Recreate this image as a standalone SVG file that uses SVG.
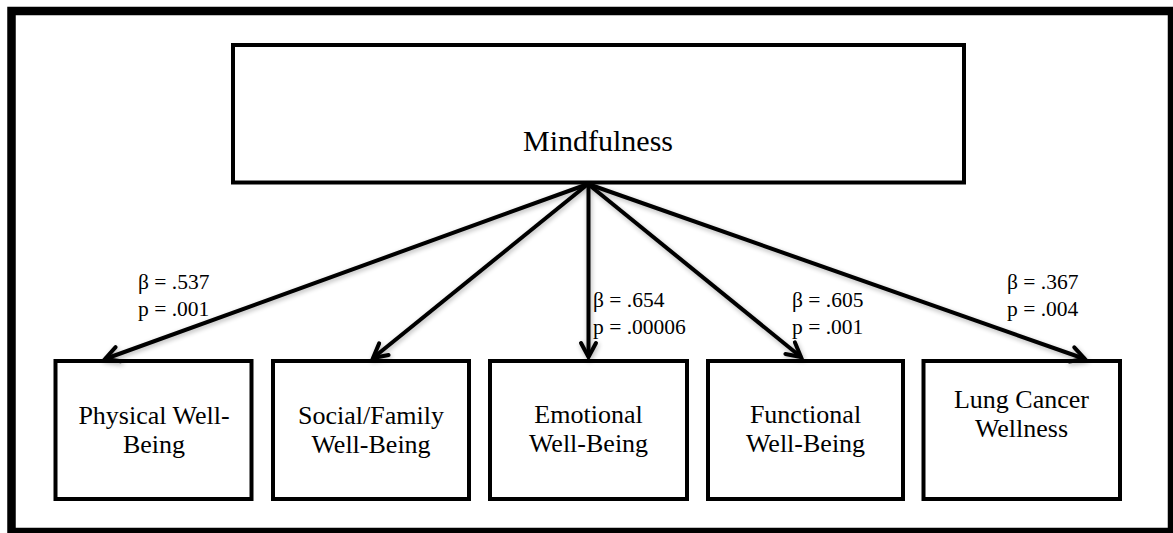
<svg xmlns="http://www.w3.org/2000/svg" width="1173" height="533" viewBox="0 0 1173 533">
  <style>
    .box { fill: #ffffff; stroke: #000000; stroke-width: 4; }
    .lbl { font-family: 'Liberation Serif', 'Tinos', 'DejaVu Serif', serif; font-size: 26px; fill: #000000; text-anchor: middle; }
    .coef { font-family: 'Liberation Serif', 'Tinos', 'DejaVu Serif', serif; font-size: 21.5px; fill: #000000; }
    .conn line { stroke: #000000; stroke-width: 4; marker-end: url(#arr); }
  </style>
  <defs>
    <marker id="arr" markerUnits="userSpaceOnUse" viewBox="-20 -12 24 24" refX="0" refY="0" markerWidth="24" markerHeight="24" orient="auto" overflow="visible">
      <path d="M -14 -7.5 L 0 0 L -14 7.5" fill="none" stroke="#000000" stroke-width="4" stroke-linejoin="miter" stroke-linecap="round"/>
    </marker>
    <filter id="shadow" x="-10%" y="-10%" width="120%" height="130%">
      <feGaussianBlur in="SourceAlpha" stdDeviation="2.5"/>
      <feOffset dx="1" dy="2" result="b"/>
      <feComponentTransfer><feFuncA type="linear" slope="0.3"/></feComponentTransfer>
      <feMerge><feMergeNode/><feMergeNode in="SourceGraphic"/></feMerge>
    </filter>
  </defs>
  <rect x="0" y="0" width="1173" height="533" fill="#ffffff"/>
  <rect x="11.5" y="11" width="1160.5" height="521" fill="none" stroke="#000000" stroke-width="8.5"/>

  <g id="mindfulness">
    <rect class="box" x="233" y="45" width="731" height="137.5"/>
    <text class="lbl" x="598" y="151" style="font-size:30px">Mindfulness</text>
  </g>

  <g id="physical">
    <rect class="box" x="55.5" y="361" width="196" height="138"/>
    <text class="lbl" x="154" y="424">Physical Well-</text>
    <text class="lbl" x="154" y="453">Being</text>
  </g>
  <g id="social">
    <rect class="box" x="273" y="361" width="196" height="138"/>
    <text class="lbl" x="371" y="424">Social/Family</text>
    <text class="lbl" x="371" y="453">Well-Being</text>
  </g>
  <g id="emotional">
    <rect class="box" x="490" y="361" width="197" height="138"/>
    <text class="lbl" x="588.5" y="423">Emotional</text>
    <text class="lbl" x="588.5" y="452">Well-Being</text>
  </g>
  <g id="functional">
    <rect class="box" x="708" y="361" width="195" height="138"/>
    <text class="lbl" x="805.5" y="423">Functional</text>
    <text class="lbl" x="805.5" y="452">Well-Being</text>
  </g>
  <g id="lungcancer">
    <rect class="box" x="923.5" y="361" width="196.5" height="138"/>
    <text class="lbl" x="1021.5" y="408">Lung Cancer</text>
    <text class="lbl" x="1021.5" y="437">Wellness</text>
  </g>

  <g id="connectors" class="conn" filter="url(#shadow)">
    <line x1="588" y1="184" x2="105" y2="359"/>
    <line x1="588" y1="184" x2="373" y2="358"/>
    <line x1="588.5" y1="184" x2="588.5" y2="357"/>
    <line x1="588" y1="184" x2="801" y2="357"/>
    <line x1="588" y1="184" x2="1085" y2="359"/>
  </g>

  <g id="labels">
    <text class="coef" x="138" y="289">β = .537</text>
    <text class="coef" x="138" y="316">p = .001</text>
    <text class="coef" x="593" y="307">β = .654</text>
    <text class="coef" x="593" y="334">p = .00006</text>
    <text class="coef" x="792" y="307">β = .605</text>
    <text class="coef" x="792" y="334">p = .001</text>
    <text class="coef" x="1007" y="289">β = .367</text>
    <text class="coef" x="1007" y="316">p = .004</text>
  </g>
</svg>
